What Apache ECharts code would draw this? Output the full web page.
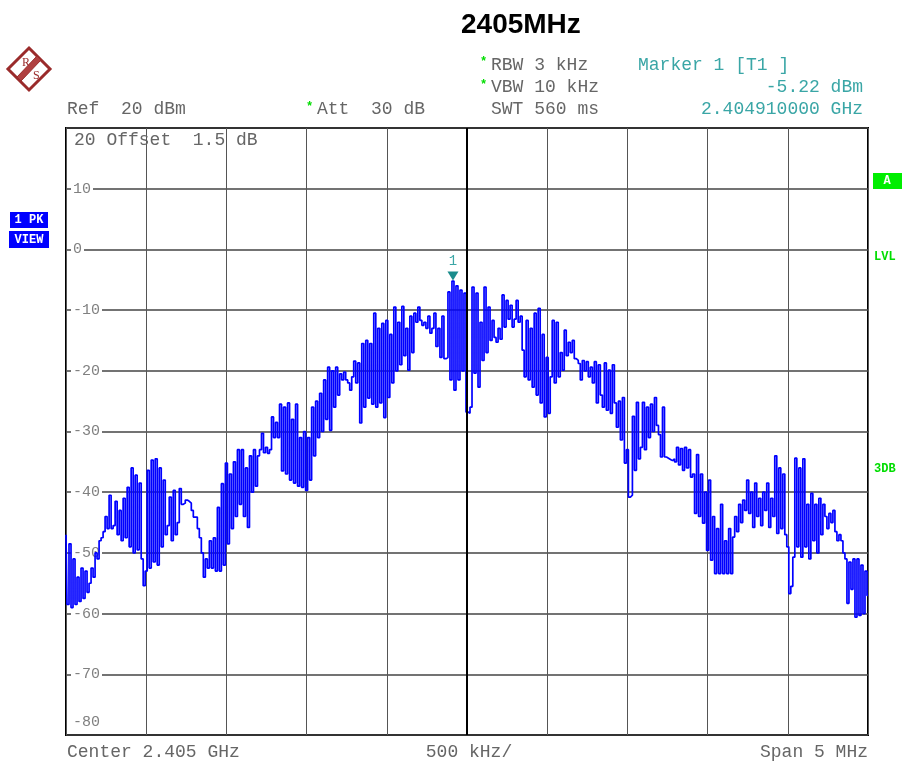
<!DOCTYPE html>
<html>
<head>
<meta charset="utf-8">
<script src="https://cdn.jsdelivr.net/npm/echarts@6/dist/echarts.min.js"></script>
<style>
html,body{margin:0;padding:0;background:#fff;}
#chart{width:904px;height:763px;}
</style>
</head>
<body>
<div id="chart"></div>
<script>
// ---- data ----
const TITLE = '2405MHz';
const FREQ_START_MHZ = 2402.5;
const FREQ_STOP_MHZ = 2407.5;
const CENTER_MHZ = 2405;
const X_DIV_MHZ = 0.5;
const Y_MIN = -80, Y_MAX = 20, Y_DIV = 10;
// trace levels (dBm), 401 sweep points
const LEVEL_DBM = [
-47,-58.5,-48.5,-59,-51,-58.5,-54,-58,-52.5,-57.5,
-53,-56.5,-55,-52.5,-54,-50,-51,-48,-47.5,-46.5,
-44,-46,-40.5,-46,-45.5,-41.5,-47,-43,-48,-41,
-47.5,-39.2,-49,-36,-50,-37.2,-49.5,-38.5,-51,-55.4,
-53,-36.4,-52.5,-34.7,-51.5,-34.5,-52,-36,-49,-38,
-47,-45.5,-40.8,-48,-39.7,-47,-45,-39.4,-42,-41.8,
-41.3,-41.5,-41.8,-43,-44.1,-44.1,-46,-47.5,-50,-54,
-51,-52.5,-48,-52.5,-47.5,-53,-42.5,-53,-38.6,-52,
-35.2,-48.5,-37,-46,-35,-44,-33,-42,-33,-44,
-36,-45.8,-34,-40,-33,-39,-34,-33,-30.3,-33.5,
-32.6,-33.6,-33,-27.6,-31,-28.5,-31,-25.5,-36.5,-26,
-37,-25.3,-38,-28,-38.5,-25.5,-39,-31,-39.2,-30,
-39.7,-31,-38,-26,-34,-25,-31,-23.7,-30,-21.5,
-28,-19.4,-29.8,-20,-26,-19.4,-24,-20.5,-21.5,-20.2,
-21.5,-22,-23.2,-21,-18.4,-22,-18.7,-28.6,-15.5,-26,
-15,-24.5,-15.5,-25.5,-10.5,-26,-13,-25.3,-12.2,-27.7,
-11.7,-24.4,-14,-22,-9.5,-20,-12,-19,-9.4,-17.5,
-13,-19.9,-11,-17,-10.5,-12,-9.5,-11.7,-12.5,-12,
-13,-11,-13.8,-13,-10.5,-16,-13,-17.8,-11,-18,
-17.8,-7,-21.5,-5.22,-23.2,-6,-21.5,-6.7,-20,-7.2,
-26.8,-27,-26,-6.2,-20.4,-7.2,-22.7,-12,-18.3,-6.2,
-17,-9.5,-15,-11.7,-14.5,-15.3,-13,-14.8,-7.5,-12.8,
-8.4,-11.5,-9.2,-12.8,-11.5,-8.4,-12,-11,-16.6,-21,
-11.7,-21.5,-13,-22.7,-10.5,-24,-9.7,-25.3,-14,-27.6,
-17.8,-27,-21,-11.7,-22,-12,-21,-17,-19.9,-13.3,
-17.5,-15.3,-17,-15,-18,-18.3,-18.8,-21.5,-18.3,-20,
-18.5,-21,-19.4,-22,-18.5,-25.3,-19,-24,-26,-18.7,
-26.5,-19.9,-27,-19,-25.3,-29.3,-25,-31.4,-24.4,-35.2,
-33,-40.8,-40.5,-27.5,-36.4,-25.2,-34.5,-32.6,-25.2,-33,
-26,-31,-25.5,-30,-24.4,-29,-30.5,-34.2,-26,-34.2,
-34.4,-34.6,-34.8,-34.5,-35,-32.6,-35.5,-32.8,-36.4,-32.6,
-36,-33,-37.5,-37,-43.5,-33.8,-44,-37,-45.1,-40,
-49.6,-38,-51.2,-44,-53.4,-46,-53.4,-42,-53.4,-48,
-53.4,-46,-53.4,-47.4,-44,-46.5,-42,-45,-41.3,-43,
-38,-43.5,-40,-45.8,-38.5,-44,-41,-45.5,-40,-43,
-38.5,-45.8,-41,-44,-34,-46.8,-36,-46,-37,-47,
-49,-56.7,-55.5,-50.7,-34.4,-49,-36,-50.7,-34.5,-49,
-42,-51,-40.2,-48,-42,-50,-41,-47,-42,-44,
-46,-43.5,-45,-43,-46.5,-48,-47,-48,-50,-51,
-58.3,-51.5,-56,-51,-60.6,-51,-60.3,-52,-60,-53,
-57
];
const Y_LABELS_SHOWN = ['10','0','-10','-20','-30','-40','-50','-60','-70'];
const HEADER_LEFT = ['Ref  20 dBm', 'Att  30 dB', '20 Offset  1.5 dB'];
const HEADER_MID = ['RBW 3 kHz', 'VBW 10 kHz', 'SWT 560 ms'];
const MARKER_TEXT = ['Marker 1 [T1 ]', '-5.22 dBm', '2.404910000 GHz'];
const FOOTER = ['Center 2.405 GHz', '500 kHz/', 'Span 5 MHz'];
const SIDE_LEFT = ['1 PK', 'VIEW'];
const SIDE_RIGHT = ['A', 'LVL', '3DB'];

// ---- build ----
const N = LEVEL_DBM.length;
const stepMHz = (FREQ_STOP_MHZ - FREQ_START_MHZ) / (N - 1);
const traceData = LEVEL_DBM.map((v, i) => [FREQ_START_MHZ + i * stepMHz, v]);

const MONO = "'Liberation Mono','DejaVu Sans Mono',monospace";
const GRAY = '#666666';
const TEAL = '#3aa6a6';
const GREEN = '#00dd00';

function txt(x, y, text, opt) {
  opt = opt || {};
  return {
    type: 'text', x: x, y: y, z: 100,
    style: {
      text: text,
      fill: opt.color || GRAY,
      font: (opt.weight || 'normal') + ' ' + (opt.size || 18) + 'px ' + (opt.family || MONO),
      align: opt.align || 'left', textAlign: opt.align || 'left',
      verticalAlign: 'middle', textVerticalAlign: 'middle'
    }
  };
}

const graphics = [
  // R&S logo
  { type: 'polygon', z: 100, shape: { points: [[29, 48], [50, 69], [29, 90], [8, 69]] },
    style: { fill: '#fff', stroke: '#9a2b2b', lineWidth: 3 } },
  { type: 'polygon', z: 101, shape: { points: [[37, 56], [41, 60], [21, 81], [17, 77]] },
    style: { fill: '#b04040', stroke: '#9a2b2b', lineWidth: 1 } },
  txt(22, 63, 'R', { color: '#9a2b2b', size: 12, family: "'Liberation Serif',serif" }),
  txt(33, 76, 'S', { color: '#9a2b2b', size: 12, family: "'Liberation Serif',serif" }),

  // header texts
  txt(67, 109, HEADER_LEFT[0]),
  txt(306, 107, '*', { color: GREEN, size: 12, weight: 'bold' }),
  txt(317, 109, HEADER_LEFT[1]),
  txt(74, 140, HEADER_LEFT[2]),
  txt(480, 62, '*', { color: GREEN, size: 12, weight: 'bold' }),
  txt(491, 65, HEADER_MID[0]),
  txt(480, 85, '*', { color: GREEN, size: 12, weight: 'bold' }),
  txt(491, 87, HEADER_MID[1]),
  txt(491, 109, HEADER_MID[2]),
  txt(638, 65, MARKER_TEXT[0], { color: TEAL }),
  txt(863, 87, MARKER_TEXT[1], { color: TEAL, align: 'right' }),
  txt(863, 109, MARKER_TEXT[2], { color: TEAL, align: 'right' }),

  // footer
  txt(67, 752, FOOTER[0]),
  txt(469, 752, FOOTER[1], { align: 'center' }),
  txt(868, 752, FOOTER[2], { align: 'right' }),

  // bottom -80 label
  txt(73, 722, '-80', { size: 15, color: '#808080' }),

  // left side boxes
  { type: 'rect', z: 100, shape: { x: 10, y: 212, width: 38, height: 16 }, style: { fill: '#0000ff' } },
  txt(29, 220, SIDE_LEFT[0], { color: '#fff', size: 12, weight: 'bold', align: 'center' }),
  { type: 'rect', z: 100, shape: { x: 9, y: 231, width: 40, height: 17 }, style: { fill: '#0000ff' } },
  txt(29, 240, SIDE_LEFT[1], { color: '#fff', size: 12, weight: 'bold', align: 'center' }),

  // right side
  { type: 'rect', z: 100, shape: { x: 873, y: 173, width: 29, height: 16 }, style: { fill: '#00ee00' } },
  txt(887, 181, SIDE_RIGHT[0], { color: '#fff', size: 12, weight: 'bold', align: 'center' }),
  txt(874, 257, SIDE_RIGHT[1], { color: GREEN, size: 12, weight: 'bold' }),
  txt(874, 469, SIDE_RIGHT[2], { color: GREEN, size: 12, weight: 'bold' })
];

const chart = echarts.init(document.getElementById('chart'), null, { renderer: 'canvas' });
chart.setOption({
  animation: false,
  backgroundColor: '#fff',
  title: {
    text: TITLE, left: 456, top: 6,
    textStyle: { fontFamily: "'Liberation Sans',Arial,sans-serif", fontWeight: 'bold', fontSize: 28, color: '#000' }
  },
  grid: { left: 66, right: 36, top: 128, bottom: 28, show: true, borderColor: '#000', borderWidth: 2, backgroundColor: 'transparent' },
  xAxis: {
    type: 'value', min: FREQ_START_MHZ, max: FREQ_STOP_MHZ, interval: X_DIV_MHZ,
    axisLine: { show: false }, axisTick: { show: false }, axisLabel: { show: false },
    splitLine: { show: true, lineStyle: { color: '#555', width: 1 } }
  },
  yAxis: {
    type: 'value', min: Y_MIN, max: Y_MAX, interval: Y_DIV,
    axisLine: { show: false }, axisTick: { show: false },
    axisLabel: {
      show: true, inside: true, margin: 5, showMaxLabel: false, showMinLabel: false,
      color: '#808080', fontFamily: MONO, fontSize: 15,
      backgroundColor: '#fff', padding: [0, 2, 0, 2],
      formatter: v => Y_LABELS_SHOWN.indexOf(String(v)) >= 0 ? String(v) : ''
    },
    splitLine: { show: true, lineStyle: { color: '#444', width: 1.5 } }
  },
  series: [{
    type: 'line', data: traceData, showSymbol: false, step: 'middle',
    lineStyle: { color: '#0000ff', width: 1.7 },
    z: 3,
    markLine: {
      silent: true, symbol: 'none', label: { show: false },
      lineStyle: { color: '#000', width: 2, type: 'solid' },
      data: [{ xAxis: CENTER_MHZ }]
    },
    markPoint: {
      symbol: 'triangle', symbolSize: [11, 9], symbolRotate: 180, symbolOffset: [0, -5],
      itemStyle: { color: '#1a8c8c' },
      label: { show: true, position: 'top', distance: 3, formatter: '1', color: TEAL, fontFamily: MONO, fontSize: 14 },
      data: [{ type: 'max' }]
    }
  }],
  graphic: graphics
});
</script>
</body>
</html>
